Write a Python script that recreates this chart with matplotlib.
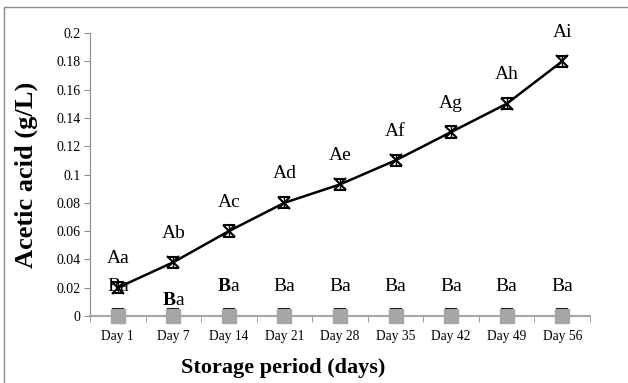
import matplotlib
matplotlib.use('Agg')
import matplotlib.pyplot as plt
from matplotlib.patches import Rectangle
import numpy as np

plt.rcParams['font.family'] = 'Liberation Serif'
plt.rcParams['mathtext.fontset'] = 'custom'
plt.rcParams['mathtext.rm'] = 'Liberation Serif'
plt.rcParams['mathtext.bf'] = 'Liberation Serif:bold'

# data
days = ['Day 1', 'Day 7', 'Day 14', 'Day 21', 'Day 28', 'Day 35', 'Day 42', 'Day 49', 'Day 56']
acid_a = [0.020, 0.038, 0.060, 0.080, 0.093, 0.110, 0.130, 0.150, 0.180]
err_a = [0.004, 0.004, 0.004, 0.004, 0.004, 0.004, 0.004, 0.004, 0.004]
acid_b = [0, 0, 0, 0, 0, 0, 0, 0, 0]
err_b = [0.005, 0.005, 0.005, 0.005, 0.005, 0.005, 0.005, 0.005, 0.005]
labels_a = ['Aa', 'Ab', 'Ac', 'Ad', 'Ae', 'Af', 'Ag', 'Ah', 'Ai']
labels_b = ['Ba', r'$\mathbf{B}$a', r'$\mathbf{B}$a', 'Ba', 'Ba', 'Ba', 'Ba', 'Ba', 'Ba']
label_b_y = [0.0205, 0.011, 0.0205, 0.0205, 0.0205, 0.0205, 0.0205, 0.0205, 0.0205]

fig = plt.figure(figsize=(6.28, 3.83), dpi=100)
# outer border
fig.patches.append(Rectangle((4 / 628, -0.1), 1.2, 1 - 7 / 383 + 0.1, transform=fig.transFigure,
                             fill=False, edgecolor='#8c8c8c', linewidth=1))
ax = fig.add_axes([90 / 628, 1 - 316 / 383, 500 / 628, 283 / 383])

x = np.arange(len(days))

# series B (zero)
ax.plot(x, acid_b, color='#a6a6a6', lw=1.5, zorder=2)
ax.errorbar(x, acid_b, yerr=[[0] * len(x), err_b], fmt='none', ecolor='black',
            capsize=4.5, elinewidth=1, capthick=1.5, zorder=3)
ax.plot(x, acid_b, 's', color='#a6a6a6', markersize=10, clip_on=False, zorder=4)

# series A
ax.errorbar(x, acid_a, yerr=err_a, fmt='-', color='black', lw=1.8,
            ecolor='black', capsize=4.5, elinewidth=1, capthick=1.5, zorder=5)
ax.plot(x, acid_a, 'x', color='black', markersize=8, mew=1.5, zorder=6)

for i in range(len(x)):
    ax.text(x[i], acid_a[i] + 0.0205, labels_a[i], ha='center', va='center', fontsize=14)
    ax.text(x[i], label_b_y[i], labels_b[i], ha='center', va='center', fontsize=14)

ax.set_xlim(-0.5, len(days) - 0.5)
ax.set_ylim(0, 0.2)
ax.set_yticks(np.arange(0, 0.201, 0.02))
ax.set_yticklabels(['0', '0.02', '0.04', '0.06', '0.08', '0.1', '0.12', '0.14', '0.16', '0.18', '0.2'])
ax.set_xticks(x)
ax.set_xticklabels(days)
ax.set_xticks(np.arange(-0.5, len(days), 1), minor=True)
ax.tick_params(axis='x', which='major', length=0, labelsize=9.75, pad=10)
ax.tick_params(axis='x', which='minor', length=4, color='#8c8c8c', direction='out')
ax.tick_params(axis='y', length=4, color='#8c8c8c', labelsize=10, pad=3)

for s in ['top', 'right']:
    ax.spines[s].set_visible(False)
ax.spines['left'].set_color('#8c8c8c')
ax.spines['bottom'].set_color('#a6a6a6')
ax.spines['bottom'].set_linewidth(1.5)

ax.set_xlabel('Storage period (days)', fontsize=16, fontweight='bold')
ax.set_ylabel('Acetic acid (g/L)', fontsize=19, fontweight='bold')
ax.xaxis.set_label_coords(0.386, -0.15)
ax.yaxis.set_label_coords(-0.104, 0.5)

fig.savefig('out.png', dpi=100)
